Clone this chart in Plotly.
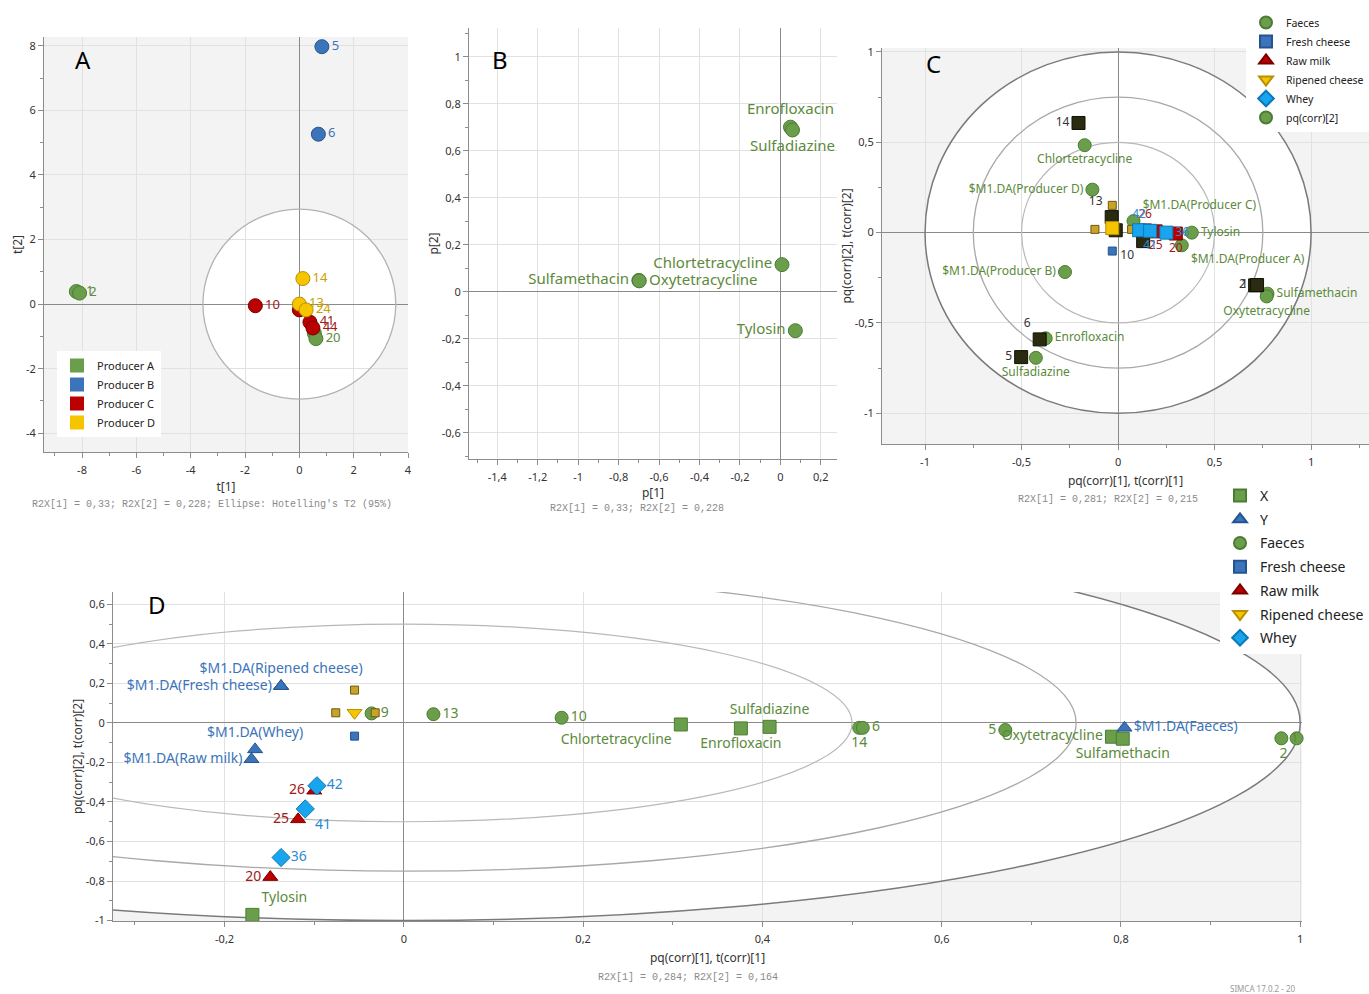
import plotly.graph_objects as go
import numpy as np

W, H = 1369, 994
FONT = "Noto Sans"
MONO = "Liberation Mono"

GREEN, GREEN_L, GREEN_T = "#6a9e4b", "#4c7c33", "#5b8a3a"
BLUE, BLUE_L = "#3b74ba", "#24548f"
RED, RED_L, RED_T = "#bb0000", "#7a0000", "#a01818"
YEL, YEL_L, YEL_T = "#f6c500", "#b89000", "#c9a000"
LBLUE, LBLUE_L, LBLUE_T = "#19a5ee", "#0b79b8", "#2a8ad0"
DARK, DARK_L = "#2b2b12", "#111100"
BLOB, BLOB_L = "#c9a227", "#6b5a12"

# ---------------- Panel A data (scores t[1], t[2]) ----------------
a_green_x = [-8.21, -8.09, 0.55, 0.61]
a_green_y = [0.39, 0.34, -0.90, -1.07]
a_green_lbl = ["1", "2", "", "20"]
a_blue_x = [0.83, 0.70]
a_blue_y = [7.97, 5.26]
a_blue_lbl = ["5", "6"]
a_red_x = [-1.62, 0.00, 0.39, 0.50]
a_red_y = [-0.05, -0.18, -0.56, -0.74]
a_red_lbl = ["10", "", "41", "44"]
a_yel_x = [0.13, 0.00, 0.25]
a_yel_y = [0.79, 0.00, -0.18]
a_yel_lbl = ["14", "13", "24"]
a_legend = ["Producer A", "Producer B", "Producer C", "Producer D"]

# ---------------- Panel B data (loadings p[1], p[2]) ----------------
b_names = ["Enrofloxacin", "Sulfadiazine", "Chlortetracycline", "Sulfamethacin", "Oxytetracycline", "Tylosin"]
b_x = [0.050, 0.060, 0.008, -0.700, -0.698, 0.074]
b_y = [0.700, 0.688, 0.115, 0.048, 0.046, -0.166]

# ---------------- Panel C data ----------------
c_var_names = ["Chlortetracycline", "$M1.DA(Producer D)", "$M1.DA(Producer C)", "Tylosin",
               "$M1.DA(Producer A)", "$M1.DA(Producer B)", "Sulfamethacin", "Oxytetracycline",
               "Enrofloxacin", "Sulfadiazine"]
c_var_x = [-0.173, -0.133, 0.080, 0.382, 0.330, -0.275, 0.774, 0.770, -0.375, -0.426]
c_var_y = [0.484, 0.238, 0.064, 0.000, -0.070, -0.218, -0.338, -0.353, -0.585, -0.693]
c_dark_x = [-0.205, -0.033, -0.012, 0.130, 0.710, 0.720, -0.406, -0.502]
c_dark_y = [0.607, 0.086, 0.013, -0.047, -0.292, -0.290, -0.591, -0.689]
c_dark_lbl = ["14", "13", "", "10", "2", "1", "6", "5"]
c_whey_x = [0.109, 0.166, 0.250]
c_whey_y = [0.013, 0.010, 0.000]
c_whey_lbl = ["42", "41", "36"]
c_raw_x = [0.140, 0.195, 0.299]
c_raw_y = [0.012, 0.007, -0.005]
c_raw_lbl = ["26", "25", "20"]
c_rip_x = [-0.030]
c_rip_y = [0.025]
c_blob_y_x = [-0.120, 0.070, -0.030]
c_blob_y_y = [0.018, 0.018, 0.151]
c_blob_b_x = [-0.030]
c_blob_b_y = [-0.102]
c_legend = ["Faeces", "Fresh cheese", "Raw milk", "Ripened cheese", "Whey", "pq(corr)[2]"]

# ---------------- Panel D data ----------------
d_xvar_names = ["Tylosin", "Chlortetracycline", "Enrofloxacin", "Sulfadiazine", "Oxytetracycline", "Sulfamethacin"]
d_xvar_x = [-0.169, 0.309, 0.376, 0.408, 0.790, 0.802]
d_xvar_y = [-0.971, -0.008, -0.028, -0.020, -0.070, -0.080]
d_y_names = ["$M1.DA(Ripened cheese)", "$M1.DA(Fresh cheese)", "$M1.DA(Whey)", "$M1.DA(Raw milk)", "$M1.DA(Faeces)"]
d_y_x = [-0.137, -0.137, -0.166, -0.170, 0.804]
d_y_y = [0.186, 0.186, -0.134, -0.184, -0.025]
d_fae_x = [0.033, 0.176, 0.508, 0.512, 0.671, 0.979, 0.996, -0.036]
d_fae_y = [0.044, 0.026, -0.025, -0.025, -0.036, -0.078, -0.078, 0.048]
d_fae_lbl = ["13", "10", "14", "6", "5", "1", "2", "9"]
d_raw_x = [-0.100, -0.118, -0.149]
d_raw_y = [-0.343, -0.488, -0.780]
d_raw_lbl = ["26", "25", "20"]
d_whey_x = [-0.097, -0.110, -0.137]
d_whey_y = [-0.318, -0.435, -0.681]
d_whey_lbl = ["42", "41", "36"]
d_rip_x = [-0.055]
d_rip_y = [0.051]
d_blob_y_x = [-0.055, -0.076, -0.032]
d_blob_y_y = [0.166, 0.051, 0.051]
d_blob_b_x = [-0.055]
d_blob_b_y = [-0.067]
d_legend = ["X", "Y", "Faeces", "Fresh cheese", "Raw milk", "Ripened cheese", "Whey"]

# tick labels
a_xt = [-8, -6, -4, -2, 0, 2, 4]
a_xtl = ["-8", "-6", "-4", "-2", "0", "2", "4"]
a_yt = [-4, -2, 0, 2, 4, 6, 8]
a_ytl = ["-4", "-2", "0", "2", "4", "6", "8"]
b_xt = [-1.4, -1.2, -1.0, -0.8, -0.6, -0.4, -0.2, 0, 0.2]
b_xtl = ["-1,4", "-1,2", "-1", "-0,8", "-0,6", "-0,4", "-0,2", "0", "0,2"]
b_yt = [-0.6, -0.4, -0.2, 0, 0.2, 0.4, 0.6, 0.8, 1.0]
b_ytl = ["-0,6", "-0,4", "-0,2", "0", "0,2", "0,4", "0,6", "0,8", "1"]
c_t = [-1, -0.5, 0, 0.5, 1]
c_tl = ["-1", "-0,5", "0", "0,5", "1"]
d_xt = [-0.2, 0, 0.2, 0.4, 0.6, 0.8, 1.0]
d_xtl = ["-0,2", "0", "0,2", "0,4", "0,6", "0,8", "1"]
d_yt = [-1.0, -0.8, -0.6, -0.4, -0.2, 0, 0.2, 0.4, 0.6]
d_ytl = ["-1", "-0,8", "-0,6", "-0,4", "-0,2", "0", "0,2", "0,4", "0,6"]

fig = go.Figure()


def pts(x, y, ax, color, line, symbol="circle", size=13, text=None, pos="middle right",
        tcolor="#333", tsize=13, lw=1):
    fig.add_trace(go.Scatter(
        x=x, y=y, xaxis=ax[0], yaxis=ax[1],
        mode="markers+text" if text is not None else "markers",
        marker=dict(color=color, size=size, symbol=symbol, line=dict(color=line, width=lw)),
        text=text, textposition=pos,
        textfont=dict(color=tcolor, size=tsize, family=FONT),
        showlegend=False, hoverinfo="skip", cliponaxis=False))


def leg(name, symbol, color, line, legend, size=12):
    fig.add_trace(go.Scatter(
        x=[None], y=[None], mode="markers", name=name, legend=legend,
        legendgroup=legend + name,
        marker=dict(symbol=symbol, color=color, size=size, line=dict(color=line, width=1)),
        showlegend=True, hoverinfo="skip"))


A = ("x", "y")
B = ("x2", "y2")
C = ("x3", "y3")
D = ("x4", "y4")

# ---- Panel A ----
pts(a_green_x, a_green_y, A, GREEN, GREEN_L, size=14, text=a_green_lbl, tcolor=GREEN_T, tsize=13)
pts(a_blue_x, a_blue_y, A, BLUE, BLUE_L, size=14, text=a_blue_lbl, tcolor=BLUE, tsize=13)
pts(a_red_x, a_red_y, A, RED, RED_L, size=14, text=a_red_lbl, tcolor=RED_T, tsize=13)
pts(a_yel_x, a_yel_y, A, YEL, YEL_L, size=14, text=a_yel_lbl, tcolor=YEL_T, tsize=13)
for nm, col in zip(a_legend, [GREEN, BLUE, RED, YEL]):
    leg(nm, "square", col, col, "legend", size=15)

# ---- Panel B ----
b_pos = ["top center", "bottom center", "middle left", "middle left", "middle right", "middle left"]
pts(b_x, b_y, B, GREEN, GREEN_L, size=14, text=b_names, pos=b_pos, tcolor=GREEN_T, tsize=15)

# ---- Panel C ----
c_var_pos = ["bottom center", "middle left", "top right", "middle right", "bottom right",
             "middle left", "middle right", "bottom center", "middle right", "bottom center"]
pts(c_var_x, c_var_y, C, GREEN, GREEN_L, size=13, text=c_var_names, pos=c_var_pos,
    tcolor=GREEN_T, tsize=12)
c_dark_pos = ["middle left", "top left", "middle left", "bottom left", "middle left",
              "middle left", "top left", "middle left"]
pts(c_dark_x, c_dark_y, C, DARK, DARK_L, symbol="square", size=13, text=c_dark_lbl,
    pos=c_dark_pos, tcolor="#333", tsize=12)
pts(c_rip_x, c_rip_y, C, YEL, YEL_L, symbol="square", size=13)
pts(c_blob_y_x, c_blob_y_y, C, BLOB, BLOB_L, symbol="square", size=8)
pts(c_blob_b_x, c_blob_b_y, C, BLUE, BLUE_L, symbol="square", size=8)
pts(c_raw_x, c_raw_y, C, RED, RED_L, symbol="square", size=13, text=c_raw_lbl,
    pos=["top center", "bottom center", "bottom center"], tcolor=RED_T, tsize=12)
pts(c_whey_x, c_whey_y, C, LBLUE, LBLUE_L, symbol="square", size=13, text=c_whey_lbl,
    pos=["top center", "bottom center", "middle right"], tcolor=LBLUE_T, tsize=12)
for nm, sym, col, ln in zip(c_legend,
                            ["circle", "square", "triangle-up", "triangle-down", "diamond", "circle"],
                            [GREEN, BLUE, RED, YEL, LBLUE, GREEN],
                            [GREEN_L, BLUE_L, RED_L, YEL_L, LBLUE_L, GREEN_L]):
    leg(nm, sym, col, ln, "legend2", size=11)

# ---- Panel D ----
d_fae_pos = ["middle right", "middle right", "bottom center", "middle right", "middle left",
             "middle right", "bottom left", "middle right"]
pts(d_fae_x, d_fae_y, D, GREEN, GREEN_L, size=13, text=d_fae_lbl, pos=d_fae_pos,
    tcolor=GREEN_T, tsize=14)
d_xvar_pos = ["top right", "bottom left", "bottom center", "top center", "middle left", "bottom center"]
pts(d_xvar_x, d_xvar_y, D, GREEN, GREEN_L, symbol="square", size=13, text=d_xvar_names,
    pos=d_xvar_pos, tcolor=GREEN_T, tsize=14)
d_y_pos = ["top center", "middle left", "top center", "middle left", "middle right"]
pts(d_y_x, d_y_y, D, BLUE, BLUE_L, symbol="triangle-up", size=13, text=d_y_names,
    pos=d_y_pos, tcolor=BLUE, tsize=14)
pts(d_blob_y_x, d_blob_y_y, D, BLOB, BLOB_L, symbol="square", size=8)
pts(d_blob_b_x, d_blob_b_y, D, BLUE, BLUE_L, symbol="square", size=8)
pts(d_rip_x, d_rip_y, D, "rgba(0,0,0,0)", BLUE, symbol="circle-open", size=15, lw=2)
pts(d_rip_x, d_rip_y, D, YEL, YEL_L, symbol="triangle-down", size=13)
pts(d_raw_x, d_raw_y, D, RED, RED_L, symbol="triangle-up", size=13, text=d_raw_lbl,
    pos="middle left", tcolor=RED_T, tsize=14)
pts(d_whey_x, d_whey_y, D, LBLUE, LBLUE_L, symbol="diamond", size=14, text=d_whey_lbl,
    pos=["middle right", "bottom right", "middle right"], tcolor=LBLUE_T, tsize=14)
for nm, sym, col, ln in zip(d_legend,
                            ["square", "triangle-up", "circle", "square", "triangle-up", "triangle-down", "diamond"],
                            [GREEN, BLUE, GREEN, BLUE, RED, YEL, LBLUE],
                            [GREEN_L, BLUE_L, GREEN_L, BLUE_L, RED_L, YEL_L, LBLUE_L]):
    leg(nm, sym, col, ln, "legend3", size=14)


# ---------------- axes ----------------
def px_dom_x(a, b):
    return [a / W, b / W]


def px_dom_y(top, bottom):
    return [1 - bottom / H, 1 - top / H]


def axis(domain, rng, tv, tt, minor_step, title, anchor, standoff):
    mv = list(np.arange(np.ceil(rng[0] / minor_step) * minor_step, rng[1], minor_step))
    return dict(domain=domain, range=rng, tickmode="array", tickvals=tv, ticktext=tt,
                ticks="outside", ticklen=5, tickcolor="#8c8c8c", showline=True,
                linecolor="#8c8c8c", linewidth=1, mirror=False,
                showgrid=True, gridcolor="#e1e1e1", gridwidth=1,
                zeroline=True, zerolinecolor="#8a8a8a", zerolinewidth=1.2,
                minor=dict(tickvals=mv, ticks="outside", ticklen=3, tickcolor="#8c8c8c", showgrid=False),
                tickfont=dict(size=11, color="#333", family=FONT),
                title=dict(text=title, font=dict(size=12, color="#333", family=FONT), standoff=standoff),
                anchor=anchor, automargin=False, fixedrange=True)


xa = axis(px_dom_x(44, 408), [-9.4, 4.0], a_xt, a_xtl, 1, "t[1]", "y", 6)
ya = axis(px_dom_y(37, 452), [-4.58, 8.27], a_yt, a_ytl, 1, "t[2]", "x", 0)
xb = axis(px_dom_x(469, 837), [-1.54, 0.28], b_xt, b_xtl, 0.1, "p[1]", "y2", 4)
yb = axis(px_dom_y(28, 459), [-0.712, 1.122], b_yt, b_ytl, 0.1, "p[2]", "x2", 0)
xc = axis(px_dom_x(882, 1369), [-1.223, 1.30], c_t, c_tl, 0.25, "pq(corr)[1], t(corr)[1]", "y3", 8)
yc = axis(px_dom_y(48, 444), [-1.17, 1.022], c_t, c_tl, 0.25, "pq(corr)[2], t(corr)[2]", "x3", 0)
xd = axis(px_dom_x(113, 1302), [-0.3245, 1.002], d_xt, d_xtl, 0.1, "pq(corr)[1], t(corr)[1]", "y4", 8)
yd = axis(px_dom_y(592, 921), [-1.002, 0.662], d_yt, d_ytl, 0.1, "pq(corr)[2], t(corr)[2]", "x4", 0)
for ax_ in (xa, xb, xc, xd):
    ax_["ticklabelstandoff"] = 3

fig.update_layout(xaxis=xa, yaxis=ya, xaxis2=xb, yaxis2=yb, xaxis3=xc, yaxis3=yc,
                  xaxis4=xd, yaxis4=yd)

shapes = []
# Panel A Hotelling ellipse
shapes.append(dict(type="circle", xref="x", yref="y", x0=-3.55, x1=3.55, y0=-2.94, y1=2.94,
                   fillcolor="white", line=dict(width=0), layer="below"))
shapes.append(dict(type="circle", xref="x", yref="y", x0=-3.55, x1=3.55, y0=-2.94, y1=2.94,
                   line=dict(color="#b3b3b3", width=1.3), layer="between"))
# Panel B white background
shapes.append(dict(type="rect", xref="x2 domain", yref="y2 domain", x0=0, x1=1, y0=0, y1=1,
                   fillcolor="white", line=dict(width=0), layer="below"))
# Panel C and D correlation circles
for xr, yr in [("x3", "y3"), ("x4", "y4")]:
    shapes.append(dict(type="circle", xref=xr, yref=yr, x0=-1, x1=1, y0=-1, y1=1,
                       fillcolor="white", line=dict(width=0), layer="below"))
    for r, col, w in [(0.5, "#b8b8b8", 1.2), (0.75, "#a8a8a8", 1.3), (1.0, "#7a7a7a", 1.5)]:
        shapes.append(dict(type="circle", xref=xr, yref=yr, x0=-r, x1=r, y0=-r, y1=r,
                           line=dict(color=col, width=w), layer="between"))

ann = []
for t, x, y in [("A", 83, 60), ("B", 500, 60), ("C", 933, 64), ("D", 157, 604)]:
    ann.append(dict(text=t, x=x / W, y=1 - y / H, xref="paper", yref="paper", showarrow=False,
                    font=dict(size=24, color="#000", family=FONT), xanchor="center", yanchor="middle"))
for t, x, y in [("R2X[1] = 0,33; R2X[2] = 0,228; Ellipse: Hotelling's T2 (95%)", 212, 504),
                ("R2X[1] = 0,33; R2X[2] = 0,228", 637, 509),
                ("R2X[1] = 0,281; R2X[2] = 0,215", 1108, 500),
                ("R2X[1] = 0,284; R2X[2] = 0,164", 688, 977)]:
    ann.append(dict(text=t, x=x / W, y=1 - y / H, xref="paper", yref="paper", showarrow=False,
                    font=dict(size=10, color="#8a8a8a", family=MONO), xanchor="center", yanchor="middle"))
ann.append(dict(text="SIMCA 17.0.2 - 20", x=1228 / W, y=1 - 988 / H, xref="paper", yref="paper",
                showarrow=False, font=dict(size=8, color="#999", family=FONT),
                xanchor="left", yanchor="middle"))

leg_common = dict(yanchor="top", bgcolor="white", itemsizing="constant", traceorder="grouped")
fig.update_layout(
    width=W, height=H, margin=dict(l=0, r=0, t=0, b=0), autosize=False,
    paper_bgcolor="white", plot_bgcolor="#f3f3f3",
    font=dict(family=FONT, color="#333"),
    shapes=shapes, annotations=ann,
    legend=dict(x=57 / W, xanchor="left", y=1 - 351 / H, font=dict(size=11, color="#222", family=FONT),
                tracegroupgap=0, **leg_common),
    legend2=dict(x=1.0, xanchor="right", y=1 - 8 / H, font=dict(size=10.5, color="#222", family=FONT),
                 tracegroupgap=0, **leg_common),
    legend3=dict(x=1.0, xanchor="right", y=1 - 480 / H, font=dict(size=14, color="#222", family=FONT),
                 tracegroupgap=2.5, **leg_common),
    showlegend=True,
)

post = ("document.documentElement.style.margin='0';document.body.style.margin='0';"
        "document.documentElement.style.overflow='hidden';document.body.style.overflow='hidden';")

fig.write_html("out.html", config={"displayModeBar": False}, post_script=post)
